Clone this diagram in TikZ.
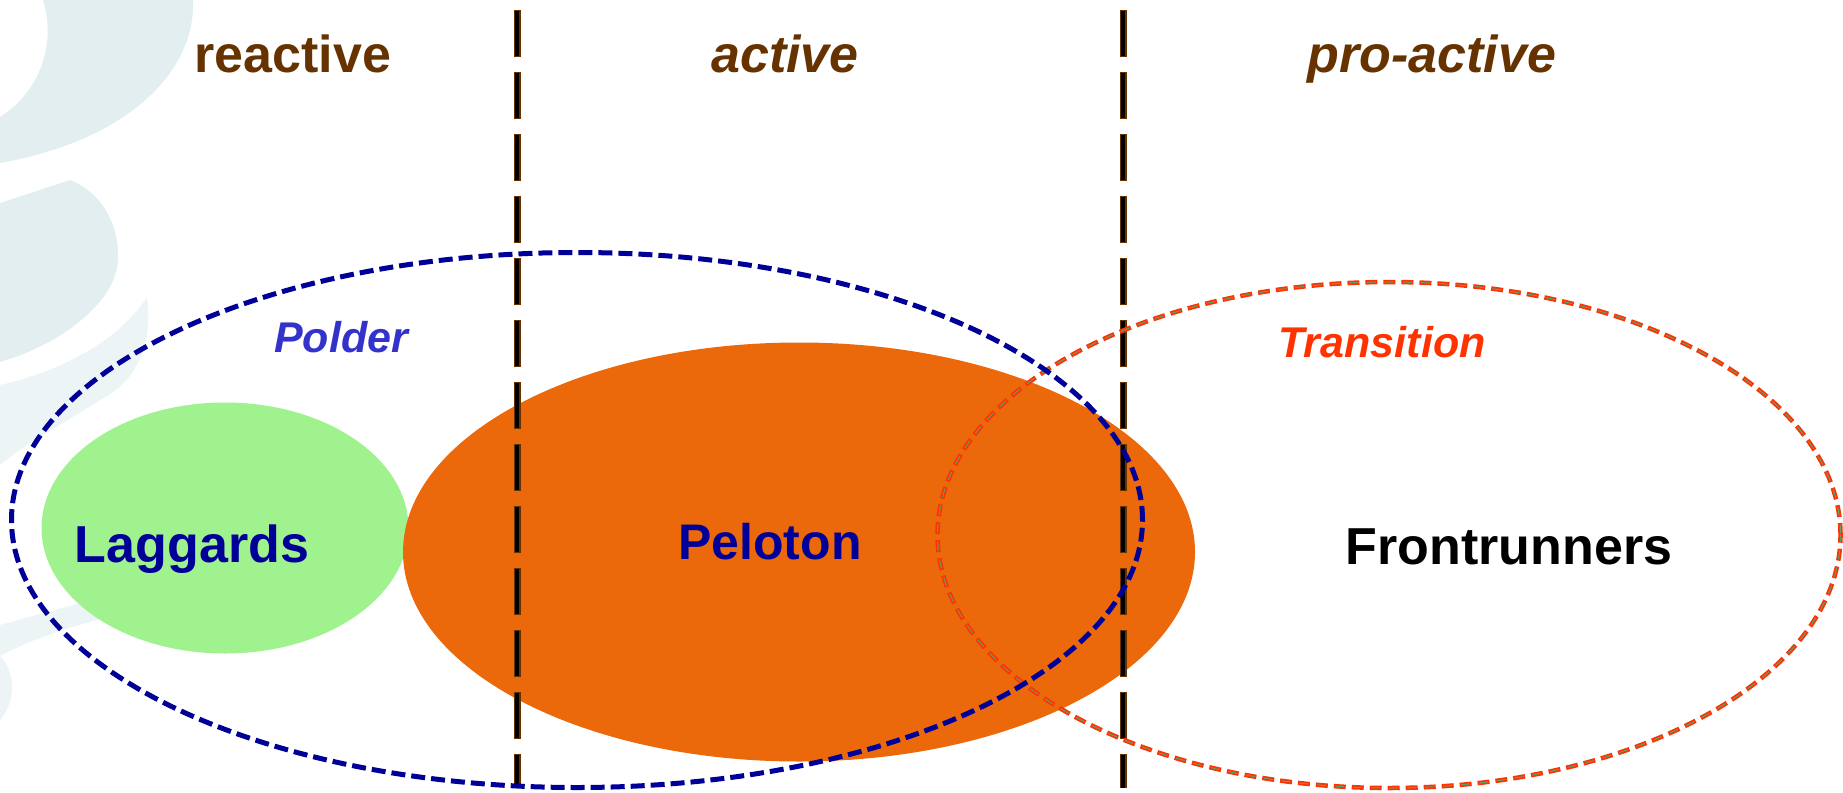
\documentclass[tikz,border=0pt]{standalone}
\usepackage{fontspec}
\setmainfont{Liberation Sans}
\usetikzlibrary{shapes.geometric}

\definecolor{headbrown}{HTML}{663300}
\definecolor{laggreen}{HTML}{9FF28E}
\definecolor{pelorange}{HTML}{EB690B}
\definecolor{polderblue}{HTML}{000099}
\definecolor{poldertext}{HTML}{3333CC}
\definecolor{transred}{HTML}{FF3300}
\definecolor{transcore}{HTML}{5FA070}
\definecolor{swirl}{HTML}{E3EEF0}
\definecolor{swirllight}{HTML}{ECF4F5}

\tikzset{
  blob/.style={ellipse,inner sep=0pt,outer sep=0pt},
  headtxt/.style={anchor=base,text=headbrown,font=\fontsize{52}{60}\selectfont\bfseries},
  grouptxt/.style={anchor=base,font=\fontsize{43}{50}\selectfont\bfseries\itshape},
  bigtxt/.style={anchor=base,font=\fontsize{52}{60}\selectfont\bfseries},
  divider/.style={draw=headbrown,line width=7pt,dash pattern=on 47pt off 15pt},
  dividercore/.style={draw=black,line width=3.6pt,dash pattern=on 45pt off 17pt,dash phase=-1pt},
}

\begin{document}
\begin{tikzpicture}[x=1pt,y=-1pt]
\useasboundingbox (0,0) rectangle (1843,792);

% background swirls
\fill[swirl] (43,0) -- (193,0) .. controls (196,70) and (130,140) .. (0,163)
  -- (0,117) .. controls (35,95) and (58,50) .. (43,0) -- cycle;
\fill[swirl] (0,203) -- (70,180) .. controls (108,195) and (122,235) .. (117,268)
  .. controls (110,305) and (60,345) .. (0,362) -- cycle;
\fill[swirllight] (0,385) .. controls (60,372) and (120,340) .. (147,297)
  .. controls (153,340) and (140,380) .. (100,400) .. controls (70,420) and (30,440) .. (0,465) -- cycle;
\fill[swirllight] (0,625) -- (110,595) -- (114,616) .. controls (70,626) and (30,640) .. (0,656) -- cycle;
\fill[swirllight] (0,656) .. controls (16,672) and (16,702) .. (0,720) -- cycle;

\node[blob,fill=laggreen,minimum width=367pt,minimum height=251pt] (lagblob) at (225,528) {};
\node[blob,fill=pelorange,minimum width=792pt,minimum height=419pt] (pelblob) at (799,552) {};

\coordinate (d1top) at (517,10);
\coordinate (d1bot) at (517,788);
\coordinate (d2top) at (1123,10);
\coordinate (d2bot) at (1123,788);
\draw[divider] (d1top) -- (d1bot);
\draw[dividercore] (d1top) -- (d1bot);
\draw[divider] (d2top) -- (d2bot);
\draw[dividercore] (d2top) -- (d2bot);

\node[blob,draw=transred,line width=4.5pt,dash pattern=on 12pt off 6pt,
  minimum width=903pt,minimum height=506pt] (transition) at (1389,535) {};
\draw[transcore,line width=1pt,dash pattern=on 9pt off 9pt,dash phase=-1.5pt]
  (transition.center) ellipse [x radius=451.5pt,y radius=253pt];
\node[blob,draw=polderblue,line width=5pt,dash pattern=on 14pt off 6pt,
  minimum width=1131pt,minimum height=535pt] (polder) at (577,520) {};

\node[headtxt] (reactive) at (293,73) {reactive};
\node[headtxt,font=\fontsize{52}{60}\selectfont\bfseries\itshape] (active) at (785,73) {active};
\node[headtxt,font=\fontsize{52}{60}\selectfont\bfseries\itshape] (proactive) at (1432,73) {pro-active};

\node[grouptxt,text=poldertext] (poldertxt) at (341,352) {Polder};
\node[grouptxt,text=transred] (transtxt) at (1382,357) {Transition};

\node[bigtxt,text=polderblue] (laggards) at (192,562) {Laggards};
\node[bigtxt,text=polderblue,font=\fontsize{50}{58}\selectfont\bfseries] (peloton) at (770,559) {Peloton};
\node[bigtxt,text=black] (frontrunners) at (1509,564) {Frontrunners};
\end{tikzpicture}
\end{document}
